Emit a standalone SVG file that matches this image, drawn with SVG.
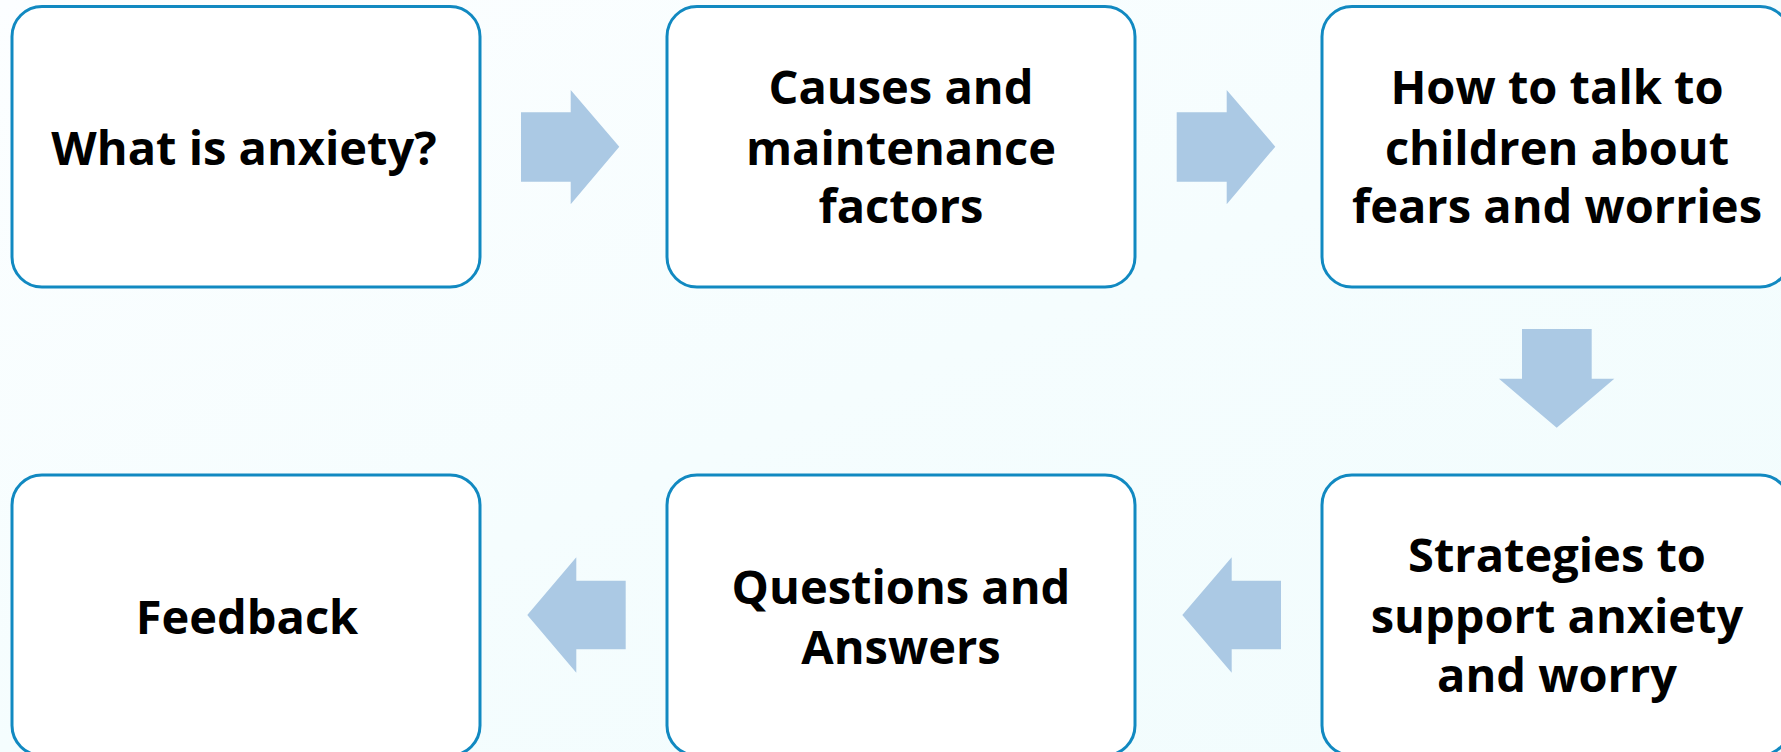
<svg xmlns="http://www.w3.org/2000/svg" width="1781" height="752" viewBox="0 0 1781 752">
  <defs>
    <linearGradient id="bg" x1="0" y1="0" x2="1" y2="1">
      <stop offset="0" stop-color="#fcfeff"/>
      <stop offset="0.5" stop-color="#f5fdfe"/>
      <stop offset="1" stop-color="#f1fcfd"/>
    </linearGradient>
    <style>
      .box { fill: #ffffff; stroke: #1189c1; stroke-width: 3; }
      .lbl { font-family: "Open Sans", "Noto Sans", "Liberation Sans", sans-serif; font-weight: 700; font-size: 47px; fill: #000000; text-anchor: middle; }
      .arrow { fill: #abc9e4; }
    </style>
  </defs>

  <rect x="0" y="0" width="1781" height="752" fill="url(#bg)"/>

  <!-- process steps -->
  <g id="step-what-is-anxiety">
    <rect class="box" x="12" y="6.5" width="468" height="280.5" rx="30"/>
    <text class="lbl" x="244" y="164.5">What is anxiety?</text>
  </g>
  <g id="step-causes">
    <rect class="box" x="667" y="6.5" width="468" height="280.5" rx="30"/>
    <text class="lbl" x="901" y="104">Causes and</text>
    <text class="lbl" x="901" y="164.5">maintenance</text>
    <text class="lbl" x="901" y="223">factors</text>
  </g>
  <g id="step-talk">
    <rect class="box" x="1322" y="6.5" width="468" height="280.5" rx="30"/>
    <text class="lbl" x="1557" y="104">How to talk to</text>
    <text class="lbl" x="1557" y="164.5">children about</text>
    <text class="lbl" x="1557" y="223">fears and worries</text>
  </g>
  <g id="step-strategies">
    <rect class="box" x="1322" y="475" width="468" height="280.5" rx="30"/>
    <text class="lbl" x="1557" y="572">Strategies to</text>
    <text class="lbl" x="1557" y="633">support anxiety</text>
    <text class="lbl" x="1557" y="692">and worry</text>
  </g>
  <g id="step-questions">
    <rect class="box" x="667" y="475" width="468" height="280.5" rx="30"/>
    <text class="lbl" x="901" y="603.5">Questions and</text>
    <text class="lbl" x="901" y="664">Answers</text>
  </g>
  <g id="step-feedback">
    <rect class="box" x="12" y="475" width="468" height="280.5" rx="30"/>
    <text class="lbl" x="247" y="633.5">Feedback</text>
  </g>

  <!-- block arrows between steps -->
  <g id="connectors">
    <polygon class="arrow" points="521,112.3 570.7,112.3 570.7,90 619.3,146.7 570.7,204.3 570.7,181.7 521,181.7"/>
    <polygon class="arrow" points="1176.7,112.3 1226.7,112.3 1226.7,90 1275.3,146.7 1226.7,204.3 1226.7,181.7 1176.7,181.7"/>
    <polygon class="arrow" points="1522,329 1591.7,329 1591.7,378.7 1614.3,378.7 1556.7,427.7 1499,378.7 1522,378.7"/>
    <polygon class="arrow" points="1281,580.7 1231.7,580.7 1231.7,557.3 1182.3,615 1231.7,672.7 1231.7,649.3 1281,649.3"/>
    <polygon class="arrow" points="625.7,580.7 576.3,580.7 576.3,557.3 527.3,615 576.3,672.7 576.3,649.3 625.7,649.3"/>
  </g>
</svg>
